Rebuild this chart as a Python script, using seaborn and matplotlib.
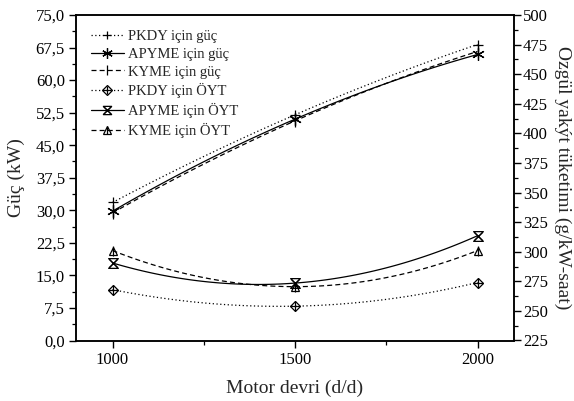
import numpy as np
import pandas as pd
import matplotlib
matplotlib.use("Agg")
import matplotlib.pyplot as plt
import seaborn as sns
from matplotlib.path import Path
from matplotlib.legend_handler import HandlerTuple
from matplotlib.ticker import MultipleLocator, FuncFormatter
from matplotlib.lines import Line2D

# ---------------- data ----------------
rpm = [1000, 1500, 2000]
guc_pkdy = [31.8, 52.0, 68.2]
guc_apyme = [29.8, 51.0, 65.9]
guc_kyme = [29.4, 50.6, 66.6]
oyt_pkdy = [268.0, 254.0, 274.0]
oyt_apyme = [290.5, 273.5, 313.5]
oyt_kyme = [301.0, 270.5, 301.0]

labels = ["PKDY için güç", "APYME için güç", "KYME için güç",
          "PKDY için ÖYT", "APYME için ÖYT", "KYME için ÖYT"]
xlabel = "Motor devri (d/d)"
ylabel_left = "Güç (kW)"
ylabel_right = "Ozgül yakýt tüketimi (g/kW-saat)"

sns.set_theme(style="ticks")
plt.rcParams['font.family'] = ['Liberation Serif', 'DejaVu Serif']

fig = plt.figure(figsize=(5.74, 4.01), dpi=100)
ax = fig.add_axes([76/574, 1-340.5/401, (514-76)/574, (340.5-15)/401])
ax2 = ax.twinx()

hourglass = Path([(-1, 1), (1, 1), (-1, -1), (1, -1), (-1, 1)],
                 [Path.MOVETO, Path.LINETO, Path.LINETO, Path.LINETO, Path.CLOSEPOLY])

def smooth(xs, ys):
    c = np.polyfit(xs, ys, 2)
    xx = np.linspace(xs[0], xs[-1], 100)
    return xx, np.polyval(c, xx)

def dash_for(ls):
    if ls == ':':
        return (1, 2)
    if ls == '--':
        return (4, 2.5)
    return ()

series = [
    (ax, guc_pkdy, ':', [('+', 7)]),
    (ax, guc_apyme, '-', [((6, 2, 0), 9)]),
    (ax, guc_kyme, '--', [('|', 8)]),
    (ax2, oyt_pkdy, ':', [('D', 5.5), ('+', 7)]),
    (ax2, oyt_apyme, '-', [(hourglass, 7), ('x', 6)]),
    (ax2, oyt_kyme, '--', [('^', 6), ('|', 7)]),
]

handles = []
for (a, ys, ls, mks), lab in zip(series, labels):
    xx, yy = smooth(rpm, ys)
    if ls == '-':
        a.plot(xx, yy, color='black', lw=0.9, linestyle='-')
    else:
        a.plot(xx, yy, color='black', lw=0.9, linestyle=ls, dashes=dash_for(ls))
    df = pd.DataFrame({'x': rpm, 'y': ys})
    for m, s in mks:
        sns.lineplot(data=df, x='x', y='y', ax=a, marker=m, markersize=s,
                     markerfacecolor='none', markeredgecolor='black',
                     markeredgewidth=0.9, linestyle='none', color='black',
                     legend=False)
    if ls == '-':
        h_line = Line2D([], [], color='black', lw=0.9, linestyle='-')
    else:
        h_line = Line2D([], [], color='black', lw=0.9, linestyle=ls, dashes=dash_for(ls))
    parts = [h_line]
    for m, s in mks:
        parts.append(Line2D([], [], marker=m, markersize=s * 0.85, markerfacecolor='none',
                            markeredgecolor='black', markeredgewidth=0.9, linestyle='none'))
    handles.append(tuple(parts))

ax.set_xlim(900, 2100)
ax.set_ylim(0, 75)
ax2.set_ylim(225, 500)
ax.set_xticks([1000, 1500, 2000])
ax.xaxis.set_minor_locator(MultipleLocator(250))
ax.yaxis.set_major_locator(MultipleLocator(7.5))
ax.yaxis.set_minor_locator(MultipleLocator(3.75))
ax.yaxis.set_major_formatter(FuncFormatter(lambda v, p: f"{v:.1f}".replace('.', ',')))
ax2.yaxis.set_major_locator(MultipleLocator(25))
ax2.yaxis.set_minor_locator(MultipleLocator(12.5))

for a in (ax, ax2):
    a.set_xlabel('')
    a.set_ylabel('')
    for sp in a.spines.values():
        sp.set_visible(True)
        sp.set_linewidth(1.1)
        sp.set_color('black')
    a.tick_params(which='major', direction='out', length=5, width=1, labelsize=12, colors='black')
    a.tick_params(which='minor', direction='out', length=3, width=0.9, colors='black')
ax.tick_params(axis='y', which='major', pad=3)
ax.tick_params(axis='x', which='major', pad=3)
ax2.tick_params(axis='y', which='major', pad=1.5)

ax.set_xlabel(xlabel, fontsize=14, labelpad=9)
ax.set_ylabel(ylabel_left, fontsize=14, labelpad=8)
ax2.set_ylabel(ylabel_right, fontsize=14, rotation=270, labelpad=17)

leg = ax.legend(handles, labels, loc='upper left', bbox_to_anchor=(0.0, 1.0),
                frameon=False, fontsize=10.5, handlelength=2.3, handletextpad=0.3,
                labelspacing=0.32, borderaxespad=0.6,
                handler_map={tuple: HandlerTuple(ndivide=1)})

fig.savefig('out.png', dpi=100)
